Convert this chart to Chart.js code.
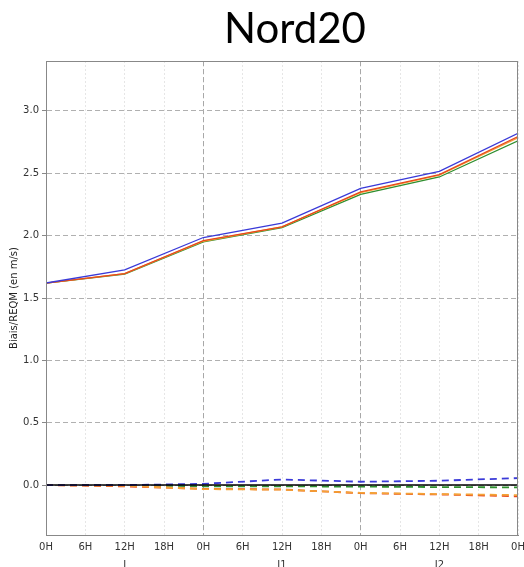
<!DOCTYPE html>
<html lang="fr">
<head>
  <meta charset="UTF-8" />
  <title>Nord20</title>
  <script src="https://cdn.jsdelivr.net/npm/chart.js"></script>
  <style>
    html, body { margin: 0; background: #fff; }
    #wrap { position: relative; width: 524px; height: 567px; }
    #title {
      position: absolute; top: 2px; left: 222px; width: 146px;
      text-align: center; font-family: Lato, sans-serif; font-size: 42px; color: #000;
      white-space: nowrap;
    }
  </style>
</head>
<body>
<div id="wrap">
  <canvas id="chart"></canvas>
  <div id="title">Nord20</div>
</div>
<script>
// echeances (heures) ou les scores sont calcules
const hours = [0, 12, 24, 36, 48, 60, 72];

// REQM (traits pleins)
const reqmBlue   = [1.62, 1.725, 1.985, 2.10, 2.378, 2.516, 2.82];
const reqmRed    = [1.62, 1.695, 1.960, 2.07, 2.350, 2.490, 2.795];
const reqmOrange = [1.62, 1.695, 1.955, 2.07, 2.345, 2.485, 2.785];
const reqmGreen  = [1.62, 1.692, 1.950, 2.065, 2.330, 2.470, 2.76];

// biais (tirets)
const biasBlue   = [0, 0.0, 0.01, 0.045, 0.027, 0.035, 0.056];
const biasRed    = [0, -0.01, -0.03, -0.035, -0.065, -0.075, -0.09];
const biasOrange = [0, -0.005, -0.032, -0.037, -0.062, -0.072, -0.08];
const biasGreen  = [0, 0.0, -0.01, -0.01, -0.012, -0.016, -0.018];

const zeroLine = [0, 0, 0, 0, 0, 0, 0];

// axes
const xTicks = [0, 6, 12, 18, 24, 30, 36, 42, 48, 54, 60, 66, 72];
const dayLabels = { 12: 'J', 36: 'J1', 60: 'J2' };
const dayLines = [24, 48];
const yTicks = [0, 0.5, 1.0, 1.5, 2.0, 2.5, 3.0];

const BLUE = '#3a3ad8', RED = '#e8481e', ORANGE = '#f4a236', GREEN = '#2f8f2f';

function pts(vals) {
  return vals.map((v, i) => ({ x: hours[i], y: v }));
}
function solid(vals, color) {
  return { data: pts(vals), borderColor: color, borderWidth: 1.3, pointRadius: 0, fill: false, tension: 0 };
}
function dashed(vals, color) {
  return { data: pts(vals), borderColor: color, borderWidth: 1.8, borderDash: [7, 5], pointRadius: 0, fill: false, tension: 0 };
}

// cadre autour de la zone de trace
const frame = {
  id: 'frame',
  afterDraw(chart) {
    const a = chart.chartArea, c = chart.ctx;
    c.save();
    c.strokeStyle = '#888';
    c.lineWidth = 1;
    c.strokeRect(a.left + 0.5, a.top + 0.5, a.right - a.left - 1, a.bottom - a.top);
    c.restore();
  }
};

const tickFont = { family: 'DejaVu Sans', size: 10 };

new Chart(document.getElementById('chart'), {
  type: 'line',
  data: {
    datasets: [
      { data: pts(zeroLine), borderColor: '#000', borderWidth: 1.5, pointRadius: 0 },
      solid(reqmBlue, BLUE),
      solid(reqmRed, RED),
      solid(reqmOrange, ORANGE),
      solid(reqmGreen, GREEN),
      dashed(biasBlue, BLUE),
      dashed(biasOrange, ORANGE),
      dashed(biasRed, RED),
      dashed(biasGreen, GREEN)
    ]
  },
  options: {
    responsive: true,
    maintainAspectRatio: false,
    animation: false,
    layout: { padding: { top: 61, right: 6, left: 0, bottom: 0 } },
    plugins: { legend: { display: false }, tooltip: { enabled: false }, title: { display: false } },
    scales: {
      x: {
        type: 'linear', min: 0, max: 72,
        afterBuildTicks: s => { s.ticks = xTicks.map(v => ({ value: v })); },
        afterFit: s => { s.height = 32; s.paddingLeft = 0; s.paddingRight = 0; },
        ticks: {
          font: Object.assign({ lineHeight: 1.8 }, tickFont), color: '#333', padding: 3, maxRotation: 0,
          callback: v => dayLabels[v] ? [(v % 24) + 'H', dayLabels[v]] : (v % 24) + 'H'
        },
        grid: { color: '#e6e6e6', drawTicks: false },
        border: { color: '#888', dash: [2, 2] }
      },
      x2: {
        type: 'linear', position: 'bottom', min: 0, max: 72,
        afterBuildTicks: s => { s.ticks = dayLines.map(v => ({ value: v })); },
        afterFit: s => { s.height = 0; s.paddingLeft = 0; s.paddingRight = 0; },
        ticks: { display: false },
        grid: { color: '#a8a8a8', drawTicks: false },
        border: { display: false, dash: [5, 3] }
      },
      y: {
        min: -0.4, max: 3.4,
        afterBuildTicks: s => { s.ticks = yTicks.map(v => ({ value: v })); },
        afterFit: s => { s.width = 46; },
        ticks: { font: tickFont, color: '#333', padding: 3, callback: v => v.toFixed(1) },
        grid: { color: '#b0b0b0', tickColor: '#888', tickLength: 4, tickBorderDash: [] },
        border: { color: '#888', dash: [5, 3] },
        title: { display: true, text: 'Biais/REQM (en m/s)', font: tickFont, color: '#222', padding: { top: 8, bottom: 0 } }
      }
    }
  },
  plugins: [frame]
});
</script>
</body>
</html>
